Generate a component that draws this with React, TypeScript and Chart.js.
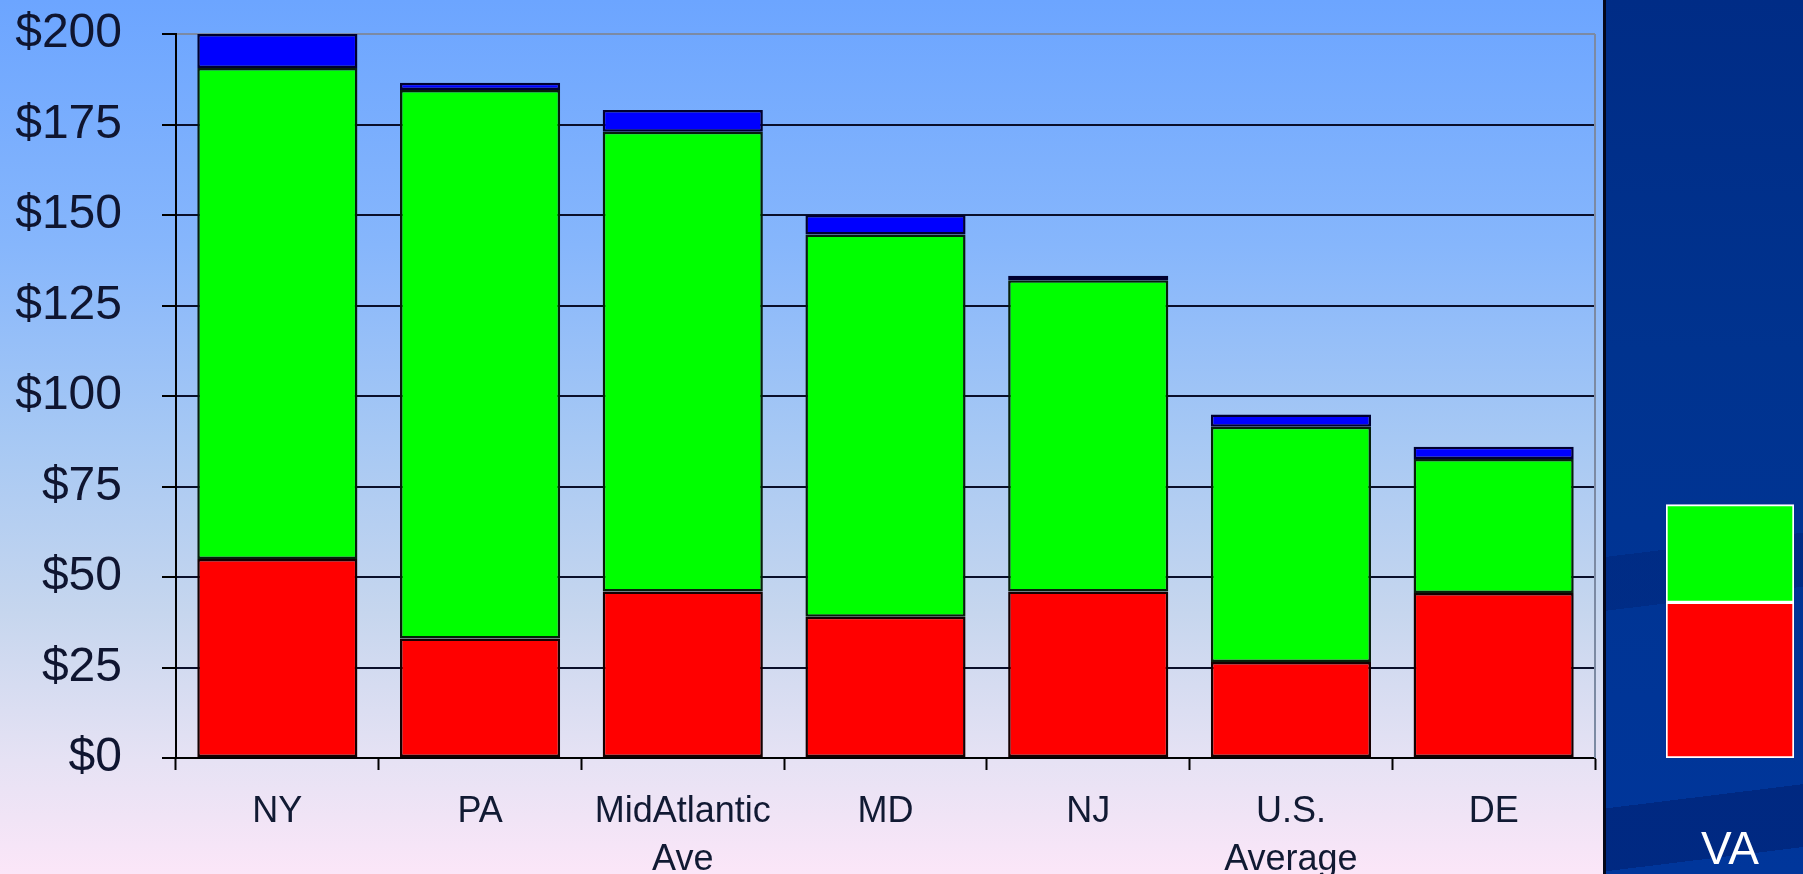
import React, { useEffect, useRef } from "react";
import { Chart, registerables } from "chart.js";

Chart.register(...registerables);

const categories: (string | string[])[] = ["NY", "PA", ["MidAtlantic", "Ave"], "MD", "NJ", ["U.S.", "Average"], "DE"];
const redValues = [55, 33, 46, 39, 46, 26.5, 45.6];
const greenValues = [135.6, 151.5, 127, 105.6, 86, 65, 37];
const blueValues = [9.4, 2, 6, 5.4, 1.2, 3.4, 3.4];

const vaCategories = ["VA"];
const vaRed = [43];
const vaGreen = [27];

const yTickValues = [0, 25, 50, 75, 100, 125, 150, 175, 200];

const FONT = "'Liberation Sans', Arial, sans-serif";

const rightBorder = {
  id: "rightBorder",
  afterDraw(chart: any) {
    const { ctx, chartArea } = chart;
    ctx.save();
    ctx.strokeStyle = "#7c8aa3";
    ctx.lineWidth = 2;
    ctx.beginPath();
    ctx.moveTo(chartArea.right, chartArea.top);
    ctx.lineTo(chartArea.right, chartArea.bottom);
    ctx.stroke();
    ctx.restore();
  },
};

export default function App() {
  const mainRef = useRef<HTMLCanvasElement>(null);
  const vaRef = useRef<HTMLCanvasElement>(null);

  useEffect(() => {
    const main = new Chart(mainRef.current!, {
      type: "bar",
      data: {
        labels: categories as any,
        datasets: [
          { label: "Red", data: redValues, backgroundColor: "#ff0000", borderColor: "#140000", borderWidth: 2.5, borderSkipped: false },
          { label: "Green", data: greenValues, backgroundColor: "#00ff00", borderColor: "#06200a", borderWidth: 2.5, borderSkipped: false },
          { label: "Blue", data: blueValues, backgroundColor: "#0000ff", borderColor: "#000030", borderWidth: 2.5, borderSkipped: false },
        ],
      },
      plugins: [rightBorder],
      options: {
        responsive: false,
        animation: false,
        devicePixelRatio: 1,
        layout: { padding: { top: 34, right: 8, left: 0, bottom: 0 } },
        datasets: { bar: { categoryPercentage: 1, barPercentage: 0.79 } },
        plugins: { legend: { display: false }, tooltip: { enabled: false }, title: { display: false } },
        scales: {
          x: {
            stacked: true,
            offset: true,
            grid: { offset: true, drawOnChartArea: false, drawTicks: true, tickLength: 12, tickColor: "#000", tickWidth: 2 },
            border: { display: true, color: "#000", width: 2 },
            ticks: {
              color: "#111a33",
              font: { family: FONT, size: 36, lineHeight: 1.33 },
              padding: 18,
              maxRotation: 0,
              autoSkip: false,
            },
            afterFit: (s: any) => {
              s.height = 116;
            },
          },
          y: {
            stacked: true,
            min: 0,
            max: 200,
            afterBuildTicks: (s: any) => {
              s.ticks = yTickValues.map((v) => ({ value: v }));
            },
            grid: {
              color: (c: any) => (c.tick && c.tick.value === 200 ? "#7c8aa3" : "#0a0f2a"),
              lineWidth: 2,
              drawTicks: true,
              tickLength: 14,
              tickColor: "#000",
              tickWidth: 2,
            },
            border: { display: true, color: "#000", width: 2 },
            ticks: {
              color: "#0f1530",
              font: { family: FONT, size: 48 },
              padding: 40,
              callback: (v: any) => "$" + v,
            },
            afterFit: (s: any) => {
              s.width = 176;
              s.paddingTop = 0;
              s.paddingBottom = 0;
            },
          },
        },
      },
    });

    const va = new Chart(vaRef.current!, {
      type: "bar",
      data: {
        labels: vaCategories,
        datasets: [
          { label: "Red", data: vaRed, backgroundColor: "#ff0000", borderColor: "#ffffff", borderWidth: 2, borderSkipped: false },
          { label: "Green", data: vaGreen, backgroundColor: "#00ff00", borderColor: "#ffffff", borderWidth: 2, borderSkipped: false },
        ],
      },
      options: {
        responsive: false,
        animation: false,
        devicePixelRatio: 1,
        layout: { padding: { top: 34, right: 9, left: 60, bottom: 0 } },
        datasets: { bar: { categoryPercentage: 1, barPercentage: 1 } },
        plugins: { legend: { display: false }, tooltip: { enabled: false } },
        scales: {
          x: {
            stacked: true,
            grid: { display: true, drawOnChartArea: false, drawTicks: true, tickLength: 66, tickColor: "rgba(0,0,0,0)" },
            border: { display: false },
            ticks: { color: "#ffffff", font: { family: FONT, size: 46 }, padding: 0 },
            afterFit: (s: any) => {
              s.height = 116;
              s.paddingLeft = 0;
              s.paddingRight = 0;
            },
          },
          y: { stacked: true, min: 0, max: 200, display: false },
        },
      },
    });

    return () => {
      main.destroy();
      va.destroy();
    };
  }, []);

  return (
    <div style={{ position: "fixed", left: 0, top: 0, width: 1803, height: 874, overflow: "hidden" }}>
      <div
        style={{
          position: "absolute",
          left: 0,
          top: 0,
          width: 1603,
          height: 874,
          background: "linear-gradient(to bottom, #6ca5ff 0%, #86b6fc 28%, #a6c8f4 50%, #c6d6ee 70%, #e6e2f4 87%, #fbe6f8 100%)",
        }}
      >
        <canvas ref={mainRef} width={1603} height={874} style={{ width: 1603, height: 874, display: "block" }} />
      </div>
      <div style={{ position: "absolute", left: 1603, top: 0, width: 3, height: 874, background: "#05071a" }} />
      <div
        style={{
          position: "absolute",
          left: 1606,
          top: 0,
          width: 197,
          height: 874,
          background:
            "linear-gradient(-7deg, rgba(0,0,0,0) 0%, rgba(0,0,0,0) 3%, rgba(0,25,100,0.45) 3%, rgba(0,25,100,0.45) 10%, rgba(0,0,0,0) 10%, rgba(0,0,0,0) 32%, rgba(0,25,100,0.3) 32%, rgba(0,25,100,0.3) 38%, rgba(0,0,0,0) 38%), linear-gradient(to bottom, #002c86 0%, #00338f 40%, #00369b 100%)",
        }}
      >
        <canvas ref={vaRef} width={197} height={874} style={{ width: 197, height: 874, display: "block" }} />
      </div>
    </div>
  );
}
